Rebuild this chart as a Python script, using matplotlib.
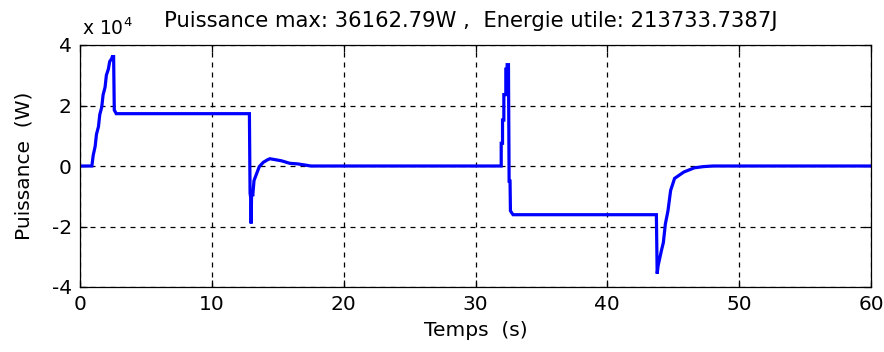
import matplotlib
matplotlib.use("Agg")
import matplotlib.pyplot as plt
from matplotlib.ticker import FuncFormatter

# Simulated power profile (W) versus time (s)
temps = [0, 0.9, 1.0, 1.15, 1.25, 1.4, 1.5, 1.65, 1.75, 1.9, 2.0, 2.15, 2.25,
         2.4, 2.45, 2.55, 2.6, 2.75, 12.85, 12.9, 12.95, 12.98, 13.02,
         13.1, 13.2, 13.4, 13.6, 13.9, 14.2, 14.4, 14.8, 15.3, 15.9, 16.5, 17.1,
         17.5, 31.95, 31.95, 32.05, 32.05, 32.15, 32.15, 32.3, 32.3, 32.4, 32.4,
         32.5, 32.55, 32.62, 32.65, 32.75, 32.85, 43.72, 43.78, 43.85, 43.95,
         44.1, 44.25, 44.4, 44.6, 44.8, 45.1, 45.8, 46.6, 47.3, 48.0, 60.0]
puissance = [0, 0, 3500, 6500, 10500, 13000, 17000, 19500, 23500, 26000, 30000,
             32000, 34500, 35500, 36162.79, 36162.79, 18500, 17300, 17300,
             -9000, -10500, -19000, -8000, -10000, -4800,
             -2500, -200, 1200, 2000, 2400, 2100, 1700, 900, 700, 300, 0, 0, 7500,
             7500, 15200, 15200, 23600, 23600, 32000, 32000, 33500, 33500, -5000,
             -5000, -14800, -15500, -16100, -16100, -35600, -33000, -31000, -28000,
             -25300, -19200, -14800, -8100, -4100, -2000, -600, -200, 0, 0]

p_max = 36162.79
energie = 213733.7387
x_ticks = [0, 10, 20, 30, 40, 50, 60]
y_ticks = [-40000, -20000, 0, 20000, 40000]

plt.rcParams['font.family'] = ['DejaVu Sans']

fig = plt.figure(figsize=(8.84, 3.52), dpi=100)
ax = fig.add_axes([80 / 884, 1 - 287 / 352, (871 - 80) / 884, (287 - 45) / 352])

ax.plot(temps, puissance, color='#0000ff', lw=2.3, solid_joinstyle='miter')

ax.set_xlim(0, 60)
ax.set_ylim(-40000, 40000)
ax.set_xticks(x_ticks)
ax.set_yticks(y_ticks)
ax.yaxis.set_major_formatter(FuncFormatter(lambda v, p: f"{v / 1e4:g}"))

ax.grid(True, color='black', linestyle=(0, (4, 4)), linewidth=0.9)
ax.tick_params(direction='in', top=True, right=True, length=5, width=0.9,
               labelsize=14.5, pad=6, color='black')
for s in ax.spines.values():
    s.set_linewidth(0.9)

ax.set_xlabel("Temps  (s)", fontsize=14.5, labelpad=5)
ax.set_ylabel("Puissance  (W)", fontsize=14.5, labelpad=13)

fig.text(82 / 884, 1 - 35 / 352, r"x 10$^{4}$", fontsize=13.5, ha='left', va='baseline')
fig.text(164 / 884, 1 - 27 / 352,
         f"Puissance max: {p_max:.2f}W ,  Energie utile: {energie:.4f}J",
         fontsize=15.2, ha='left', va='baseline')

fig.savefig("out.png", dpi=100, facecolor='white')
